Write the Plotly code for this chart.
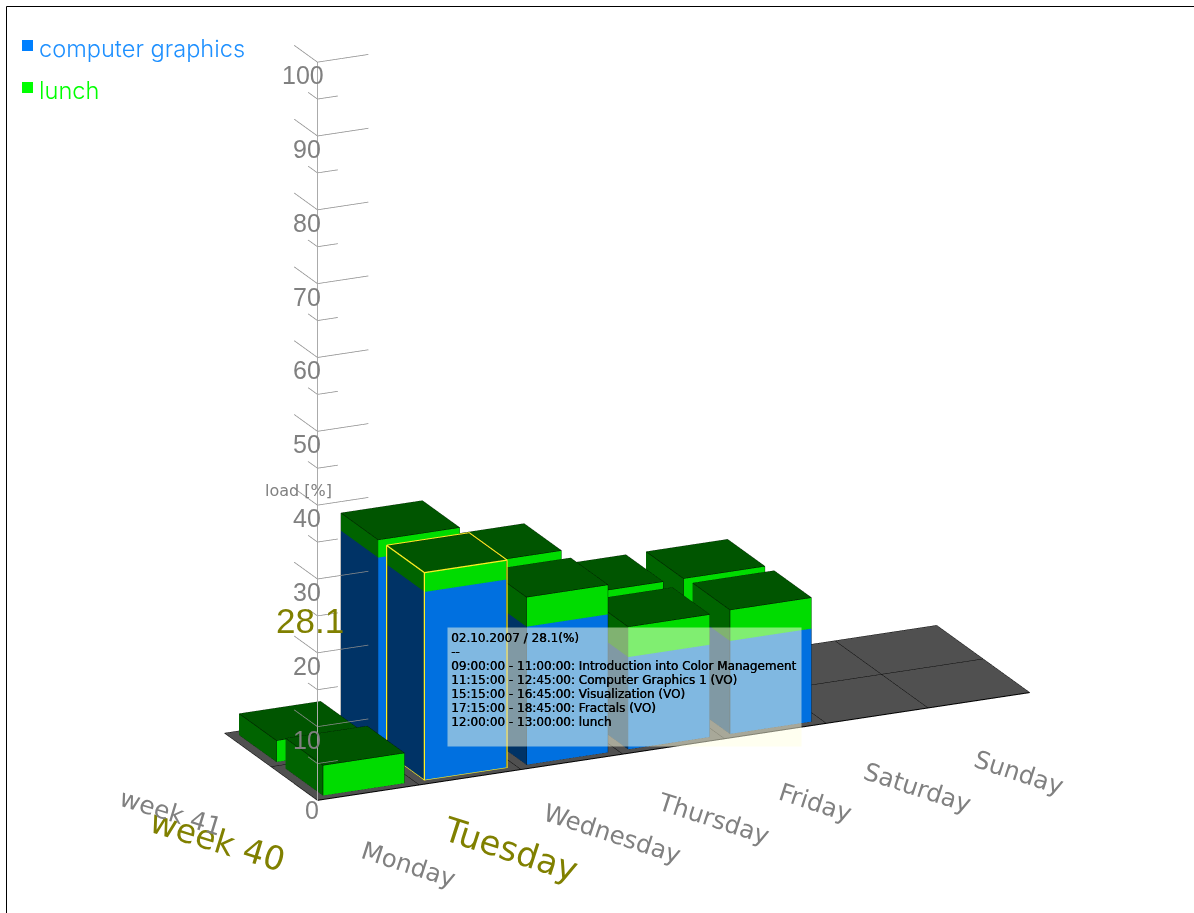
import math
import plotly.graph_objects as go

# Weekly load view: two weeks by seven days, stacked per category.
days = ["Monday", "Tuesday", "Wednesday", "Thursday", "Friday", "Saturday", "Sunday"]
weeks = ["week 40", "week 41"]
graphics_load = [
    [0, 25.5, 18.7, 12.5, 12.6, 0, 0],
    [0, 25.6, 18.8, 12.4, 12.4, 0, 0],
]
lunch_load = [
    [4.1, 2.6, 4.0, 4.1, 4.2, 0, 0],
    [2.9, 2.4, 4.0, 4.1, 4.1, 0, 0],
]
z_major = [0, 10, 20, 30, 40, 50, 60, 70, 80, 90, 100]
z_minor = [5, 15, 25, 35, 45, 55, 65, 75, 85, 95]
selected_week = 0
selected_day = 1
selected_value = 28.1
tooltip_lines = [
    "02.10.2007 / 28.1(%)",
    "--",
    "09:00:00 - 11:00:00: Introduction into Color Management",
    "11:15:00 - 12:45:00: Computer Graphics 1 (VO)",
    "15:15:00 - 16:45:00: Visualization (VO)",
    "17:15:00 - 18:45:00: Fractals (VO)",
    "12:00:00 - 13:00:00: lunch",
]

GREY = "#808080"
OLIVE = "#808000"
GAP = 0.1


def box_mesh(boxes, name, front, side, top):
    """One flat-shaded mesh holding every box of a series."""
    xs, ys, zs, i, j, k, colors = [], [], [], [], [], [], []
    for x0, x1, y0, y1, z0, z1 in boxes:
        b = len(xs)
        for z in (z0, z1):
            xs += [x0, x1, x1, x0]
            ys += [y0, y0, y1, y1]
            zs += [z] * 4
        faces = [
            ((0, 1, 5, 4), front), ((3, 2, 6, 7), front),
            ((0, 3, 7, 4), side), ((1, 2, 6, 5), side),
            ((4, 5, 6, 7), top), ((0, 1, 2, 3), top),
        ]
        for (a, c, d, e), col in faces:
            i += [b + a, b + a]
            j += [b + c, b + d]
            k += [b + d, b + e]
            colors += [col, col]
    return go.Mesh3d(
        x=xs, y=ys, z=zs, i=i, j=j, k=k, facecolor=colors, name=name, flatshading=True,
        hoverinfo="skip", showscale=False,
        lighting=dict(ambient=1, diffuse=0, specular=0, fresnel=0, roughness=1),
    )


def box_edges(x0, x1, y0, y1, z0, z1):
    """Line segments along the twelve edges of a box."""
    corners = [(x0, y0), (x1, y0), (x1, y1), (x0, y1)]
    ex, ey, ez = [], [], []
    for z in (z0, z1):
        for c in corners + corners[:1]:
            ex.append(c[0]); ey.append(c[1]); ez.append(z)
        ex.append(None); ey.append(None); ez.append(None)
    for c in corners:
        ex += [c[0], c[0], None]; ey += [c[1], c[1], None]; ez += [z0, z1, None]
    return ex, ey, ez


def lines3d(ex, ey, ez, color, width):
    return go.Scatter3d(x=ex, y=ey, z=ez, mode="lines", hoverinfo="skip", showlegend=False,
                        line=dict(color=color, width=width))


blue_boxes, green_boxes = [], []
edge_x, edge_y, edge_z = [], [], []
for w in range(len(weeks)):
    for d in range(len(days)):
        g, l = graphics_load[w][d], lunch_load[w][d]
        if g + l == 0:
            continue
        fp = (d + GAP, d + 1 - GAP, w + GAP, w + 1 - GAP)
        if g:
            blue_boxes.append((*fp, 0, g))
        green_boxes.append((*fp, g, g + l))
        ex, ey, ez = box_edges(*fp, 0, g + l)
        edge_x += ex; edge_y += ey; edge_z += ez

# Floor with its day / week grid
nd, nw = len(days), len(weeks)
floor = go.Mesh3d(x=[0, nd, nd, 0], y=[0, 0, nw, nw], z=[0, 0, 0, 0], i=[0, 0], j=[1, 2], k=[2, 3],
                  color="#505050", hoverinfo="skip",
                  lighting=dict(ambient=1, diffuse=0, specular=0, fresnel=0, roughness=1))
grid_x, grid_y, grid_z = [], [], []
for d in range(nd + 1):
    grid_x += [d, d, None]; grid_y += [0, nw, None]; grid_z += [0.02, 0.02, None]
for w in range(nw + 1):
    grid_x += [0, nd, None]; grid_y += [w, w, None]; grid_z += [0.02, 0.02, None]

# Value axis with major and minor ticks pointing along both floor directions
tick_x, tick_y, tick_z = [], [], []
for values, dx, dy in ((z_major, 0.5, 0.5), (z_minor, 0.2, 0.2)):
    for v in values:
        tick_x += [dx, 0, 0, None]
        tick_y += [0, 0, dy, None]
        tick_z += [v, v, v, None]

# Highlighted bar outline, pushed just outside its faces so it stays visible
HALO = 0.006
sel_x, sel_y, sel_z = box_edges(selected_day + GAP - HALO, selected_day + 1 - GAP + HALO,
                                selected_week + GAP - HALO, selected_week + 1 - GAP + HALO,
                                0, selected_value + 0.05)

fig = go.Figure([
    floor,
    lines3d(grid_x, grid_y, grid_z, "#000000", 1),
    lines3d([0, nd], [0, 0], [0.02, 0.02], "#000000", 2),
    box_mesh(blue_boxes, "computer graphics", "#0070E0", "#003366", "#003366"),
    box_mesh(green_boxes, "lunch", "#00DC00", "#006400", "#005500"),
    lines3d(edge_x, edge_y, edge_z, "#000000", 1),
    lines3d(sel_x, sel_y, sel_z, "#FFEE22", 2.6),
    lines3d([0, 0], [0, 0], [z_major[0], z_major[-1]], "#ABABAB", 2),
    lines3d(tick_x, tick_y, tick_z, "#8C8C8C", 1.5),
])

# Labels anchored to floor and axis points, offset out of the scene box
scene_notes = []
for idx, name in enumerate(days):
    active = idx == selected_day
    scene_notes.append(dict(x=idx, y=0, z=0, text=name, showarrow=False, textangle=18, xshift=91, yshift=-64,
                            font=dict(family="DejaVu Sans", size=34 if active else 24.6,
                                      color=OLIVE if active else GREY)))
for idx, name in enumerate(weeks):
    active = idx == selected_week
    scene_notes.append(dict(x=0, y=idx, z=0, text=name, showarrow=False, textangle=17,
                            xshift=-100, yshift=-40 - 6 * idx,
                            font=dict(family="DejaVu Sans", size=33 if active else 25,
                                      color=OLIVE if active else GREY)))
label_shift = {1: 4, 2: 6, 3: 9}
for v in z_major:
    label = str(v)
    scene_notes.append(dict(x=0, y=0, z=v, text=label, showarrow=False, xanchor="right",
                            xshift=label_shift[len(label)], yshift=-10 if v == 0 else -13,
                            font=dict(family="Liberation Sans", size=25, color=GREY)))
scene_notes.append(dict(x=0, y=0, z=selected_value, text=str(selected_value), showarrow=False,
                        xanchor="right", xshift=29, yshift=-27,
                        font=dict(family="Liberation Sans", size=35, color=OLIVE)))
scene_notes.append(dict(x=0, y=0, z=40, text="load [%]", showarrow=False, xshift=-19, yshift=15,
                        font=dict(family="DejaVu Sans", size=16, color=GREY)))

azimuth = math.radians(24.6)
elevation = math.radians(19.3)
eye_dist = 2.0
center = dict(x=-0.0599, y=0.0274, z=-0.2615)
eye = dict(x=center["x"] - math.sin(azimuth) * math.cos(elevation) * eye_dist,
           y=center["y"] - math.cos(azimuth) * math.cos(elevation) * eye_dist,
           z=center["z"] + math.sin(elevation) * eye_dist)

hidden = dict(visible=False, showgrid=False, zeroline=False, showspikes=False)
W, H = 1194, 913


def paper_y(py):
    return 1 - py / H


tooltip_notes = [
    dict(xref="paper", yref="paper", x=447 / W, y=paper_y(627), xanchor="left", yanchor="top", text=" ",
         showarrow=False, width=353, height=118, borderpad=0, bgcolor="rgba(255,255,225,0.5)",
         font=dict(size=10)),
]
for n, line in enumerate(tooltip_lines):
    tooltip_notes.append(dict(xref="paper", yref="paper", x=450 / W, y=paper_y(638 + 14 * n), text=line,
                              showarrow=False, xanchor="left", yanchor="middle", borderpad=0,
                              font=dict(family="DejaVu Sans", size=12, color="black",
                                        shadow="0.4px 0 0 black")))

fig.update_layout(
    width=W, height=H, margin=dict(l=0, r=0, t=0, b=0), paper_bgcolor="white", showlegend=False,
    scene=dict(
        domain=dict(x=[0, 1], y=[0, 1]),
        xaxis=dict(range=[0, nd], **hidden),
        yaxis=dict(range=[0, nw], **hidden),
        zaxis=dict(range=[0, 100], **hidden),
        aspectmode="manual",
        aspectratio=dict(x=1.716, y=0.4897, z=1.7137),
        camera=dict(eye=eye, center=center, up=dict(x=0, y=0, z=1),
                    projection=dict(type="orthographic")),
        annotations=scene_notes,
    ),
    shapes=[
        dict(type="line", xref="paper", yref="paper", x0=6.5 / W, x1=6.5 / W, y0=0, y1=paper_y(6.5),
             line=dict(color="black", width=1)),
        dict(type="line", xref="paper", yref="paper", x0=6.5 / W, x1=1, y0=paper_y(6.5), y1=paper_y(6.5),
             line=dict(color="black", width=1)),
        dict(type="rect", xref="paper", yref="paper", x0=22 / W, x1=33 / W, y0=paper_y(51), y1=paper_y(40),
             fillcolor="#0080FF", line=dict(width=0)),
        dict(type="rect", xref="paper", yref="paper", x0=22 / W, x1=33 / W, y0=paper_y(93), y1=paper_y(82),
             fillcolor="#00FF00", line=dict(width=0)),
    ],
    annotations=[
        dict(xref="paper", yref="paper", x=37 / W, y=paper_y(49), text="computer graphics", showarrow=False,
             xanchor="left", yanchor="middle", font=dict(family="Inter", size=23.6, weight=300, color="#1E90FF")),
        dict(xref="paper", yref="paper", x=37 / W, y=paper_y(91), text="lunch", showarrow=False,
             xanchor="left", yanchor="middle", font=dict(family="Inter", size=23.6, weight=300, color="#00FF00")),
    ] + tooltip_notes,
)

fig.write_html("out.html")
